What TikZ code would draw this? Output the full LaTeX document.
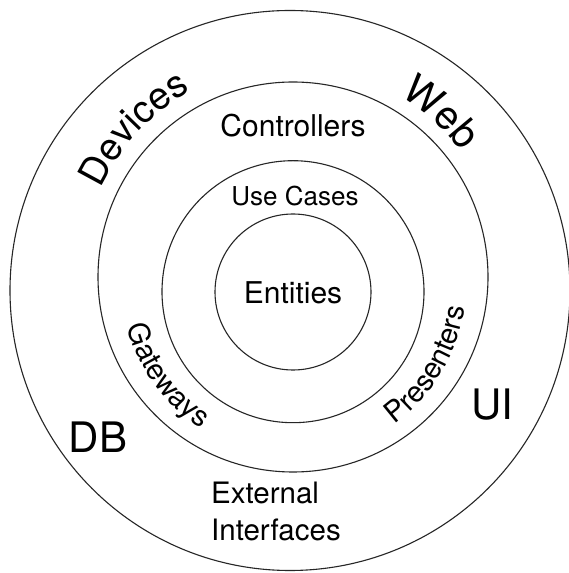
\documentclass[tikz,border=0pt]{standalone}
\usepackage{fontspec}
\setmainfont{TeX Gyre Heros}
\usetikzlibrary{decorations.text}
\newcommand\fBig{\fontsize{38}{44}\selectfont}
\newcommand\fWeb{\fontsize{40}{46}\selectfont}
\newcommand\fMid{\fontsize{29}{34}\selectfont}
\begin{document}
\begin{tikzpicture}[x=1pt,y=1pt,
  ring/.style={draw=black!85, line width=1.1pt, circle, inner sep=0pt, outer sep=0pt},
  lbl/.style={inner sep=0pt, font=\fontsize{29.5}{36.7}\selectfont},
  biglbl/.style={inner sep=0pt, font=\fontsize{42}{46}\selectfont},
  arctext/.style={decorate, decoration={text along path, text align=center}}]
\useasboundingbox (0,0) rectangle (569,573);
\fill[white] (0,0) rectangle (569,573);
\node[ring, minimum size=560pt] (outer) at (290,282.5) {};
\node[ring, minimum size=390pt] (middle) at (293,296) {};
\node[ring, minimum size=262pt] (third) at (293,281.3) {};
\node[ring, minimum size=156pt] (inner) at (293,281) {};
\coordinate (cm) at (293,296);
\coordinate (cb) at (293,289);
\node[lbl, font=\fontsize{30}{34}\selectfont] (entities) at (293,280) {Entities};
\node[lbl, font=\fontsize{26}{30}\selectfont] (usecases) at (295,377) {Use Cases};
\node[lbl, font=\fontsize{30}{34}\selectfont] (controllers) at (293,447) {Controllers};
\node[lbl, anchor=base west, align=left] (external) at (211,32.3) {External\\Interfaces};
\node[biglbl] (db) at (98,136) {DB};
\node[biglbl] (ui) at (492,168) {UI};
\path[arctext, decoration={text={|\fBig|Devices}}] (cm) ++(177:212pt) arc[start angle=177, end angle=97, radius=212pt];
\path[arctext, decoration={text={|\fWeb|Web}}] (cm) ++(82:210pt) arc[start angle=82, end angle=14, radius=210pt];
\path[arctext, decoration={text={|\fMid|Gateways}}] (cb) ++(173:171pt) arc[start angle=173, end angle=259, radius=171pt];
\path[arctext, decoration={text={|\fMid|Presenters}}] (cb) ++(286:173pt) arc[start angle=286, end angle=372, radius=173pt];
\end{tikzpicture}
\end{document}
